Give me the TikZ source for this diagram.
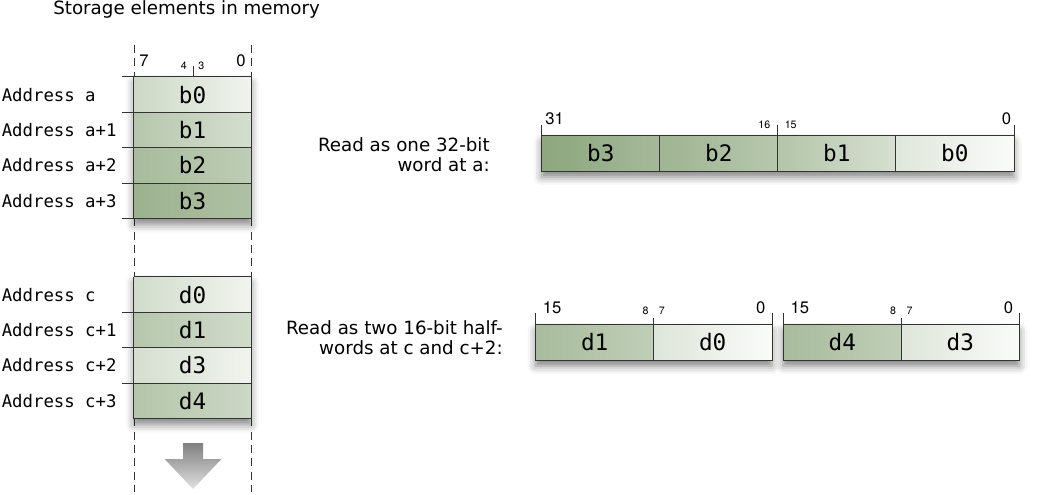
\documentclass[tikz,border=0pt]{standalone}
\usepackage{fontspec}
\setmainfont{DejaVu Sans}
\newfontfamily\memfont[RawFeature=+zero]{DejaVu Sans Mono}
\newfontfamily\bitfont{TeX Gyre Heros}
\usetikzlibrary{shadows.blur}

\definecolor{memgreen}{RGB}{134,161,118}

\tikzset{%
  mem cell/.style={
    rectangle,
    draw=none,
    inner sep=0pt,
    minimum width=87.75pt,
    minimum height=26.55pt,
    font=\memfont\fontsize{17}{19}\selectfont
  },
  word cell/.style={
    mem cell,
    minimum width=88.5pt,
    minimum height=26.25pt
  },
  mem line/.style={
    draw=black!80,
    line width=0.6pt
  },
  mem dash/.style={
    draw=black!80,
    line width=0.6pt,
    dash pattern=on 6pt off 4pt
  },
  box shadow/.style={
    blur shadow={shadow xshift=0pt, shadow yshift=-4.5pt,
      shadow blur radius=6pt, shadow opacity=50}
  },
  address/.style={
    anchor=west,
    inner sep=0pt,
    font=\memfont\fontsize{13}{15}\selectfont
  },
  bit big/.style={
    inner sep=0pt,
    font=\bitfont\fontsize{12.5}{14}\selectfont
  },
  bit small/.style={
    inner sep=0pt,
    font=\bitfont\fontsize{8}{9}\selectfont
  },
  side text/.style={
    anchor=east,
    align=right,
    inner sep=0pt,
    font=\fontsize{13.7}{15}\selectfont
  },
}

\begin{document}
\begin{tikzpicture}[x=0.75pt, y=-0.75pt]
\useasboundingbox (0,0) rectangle (1043,495);

\node [anchor=base west, inner sep=0pt, font=\fontsize{13.7}{15}\selectfont]
  (title) at (53,15) {Storage elements in memory};

% memory column
\foreach \x in {134,251}
  \draw [mem dash] (\x,45) -- (\x,492);

\fill [white, box shadow] (134,77) rectangle (251,218.6);
\fill [white, box shadow] (134,277) rectangle (251,418.6);

\foreach \m/\l/\r [count=\y from 0] in {b0/42/12, b1/60/35, b2/72/54, b3/82/66}
  \node [mem cell, left color=memgreen!\l!white, right color=memgreen!\r!white]
    (mem-\m) at (192.5,94.7+\y*35.4) {\m};

\foreach \m/\l/\r [count=\y from 0] in {d0/38/12, d1/60/38, d3/35/12, d4/62/42}
  \node [mem cell, left color=memgreen!\l!white, right color=memgreen!\r!white]
    (mem-\m) at (192.5,294.7+\y*35.4) {\m};

\foreach \m in {b0,b1,b2,b3}
  \draw [mem line] ([xshift=-9pt]mem-\m.north west) -- (mem-\m.north east);
\draw [mem line] ([xshift=-9pt]mem-b3.south west) -- (mem-b3.south east);
\draw [mem line] (mem-b0.north west) -- (mem-b3.south west);
\draw [mem line] (mem-b0.north east) -- (mem-b3.south east);

\draw [mem line] (mem-d0.north west) -- (mem-d0.north east);
\foreach \m in {d1,d3,d4}
  \draw [mem line] ([xshift=-9pt]mem-\m.north west) -- (mem-\m.north east);
\draw [mem line] (mem-d4.south west) -- (mem-d4.south east);
\draw [mem line] (mem-d0.north west) -- (mem-d4.south west);
\draw [mem line] (mem-d0.north east) -- (mem-d4.south east);

\foreach \m/\l [count=\y from 0] in {a/a, a1/a+1, a2/a+2, a3/a+3}
  \node [address] (addr-\m) at (1.5,94.7+\y*35.4) {Address \l};

\foreach \m/\l [count=\y from 0] in {c/c, c1/c+1, c2/c+2, c3/c+3}
  \node [address] (addr-\m) at (1.5,294.7+\y*35.4) {Address \l};

\node [bit big, anchor=base west] (col-7) at (139,66.5) {7};
\node [bit big, anchor=base east] (col-0) at (246,66.5) {0};
\node [bit small, anchor=base east] (col-4) at (187,69.3) {4};
\node [bit small, anchor=base west] (col-3) at (198,69.3) {3};
\coordinate (col-mid) at (193.3,77);
\draw [mem line] (col-mid) -- ++(0,-11);

% direction of growth
\shade [top color=black!50, bottom color=black!12]
  (183,443) -- (203,443) -- (203,459) -- (221.5,459) -- (193,489)
  -- (164.5,459) -- (183,459) -- cycle;

% one 32-bit word
\node [side text] (word-text) at (490,155) {Read as one 32-bit\\word at a:};

\fill [white, box shadow] (541.75,136) rectangle (1013.75,171);
\foreach \m/\l/\r [count=\x from 0] in {b3/94/74, b2/79/60, b1/63/33, b0/26/4}
  \node [word cell, left color=memgreen!\l!white, right color=memgreen!\r!white]
    (word-\m) at (600.75+\x*118,153.5) {\m};
\draw [mem line] (word-b3.north west) rectangle (word-b0.south east);
\foreach \m in {b2,b1,b0}
  \draw [mem line] (word-\m.north west) -- (word-\m.south west);
\foreach \a in {word-b3.north west, word-b1.north west, word-b0.north east}
  \draw [mem line] (\a) -- ++(0,-11);

\node [bit big, anchor=base west] (word-31) at (545,125) {31};
\node [bit big, anchor=base east] (word-0) at (1011.5,125) {0};
\node [bit small, anchor=base east] (word-16) at (770.5,128.3) {16};
\node [bit small, anchor=base west] (word-15) at (784.5,128.3) {15};

% two 16-bit half-words
\node [side text] (half-text) at (503,338) {Read as two 16-bit half-\\words at c and c+2:};

\foreach \hx/\hi/\lo [count=\n] in {535.7/d1/d0, 783.3/d4/d3} {
  \fill [white, box shadow] (\hx,325) rectangle (\hx+236,360);
  \node [word cell, left color=memgreen!72!white, right color=memgreen!52!white]
    (half-\hi) at (\hx+59,342.5) {\hi};
  \node [word cell, left color=memgreen!28!white, right color=memgreen!4!white]
    (half-\lo) at (\hx+177,342.5) {\lo};
  \draw [mem line] (half-\hi.north west) rectangle (half-\lo.south east);
  \draw [mem line] (half-\lo.north west) -- (half-\lo.south west);
  \draw [mem line] (half-\hi.north west) -- ++(0,-12);
  \draw [mem line] (half-\lo.north east) -- ++(0,-12);
  \draw [mem line] (half-\lo.north west) -- ++(0,-7);
  \node [bit big, anchor=base west] (half-15-\n) at (\hx+7,314) {15};
  \node [bit big, anchor=base east] (half-0-\n) at (\hx+230,314) {0};
  \node [bit small, anchor=base east] (half-8-\n) at (\hx+113,315) {8};
  \node [bit small, anchor=base west] (half-7-\n) at (\hx+123,315) {7};
}

\end{tikzpicture}
\end{document}
